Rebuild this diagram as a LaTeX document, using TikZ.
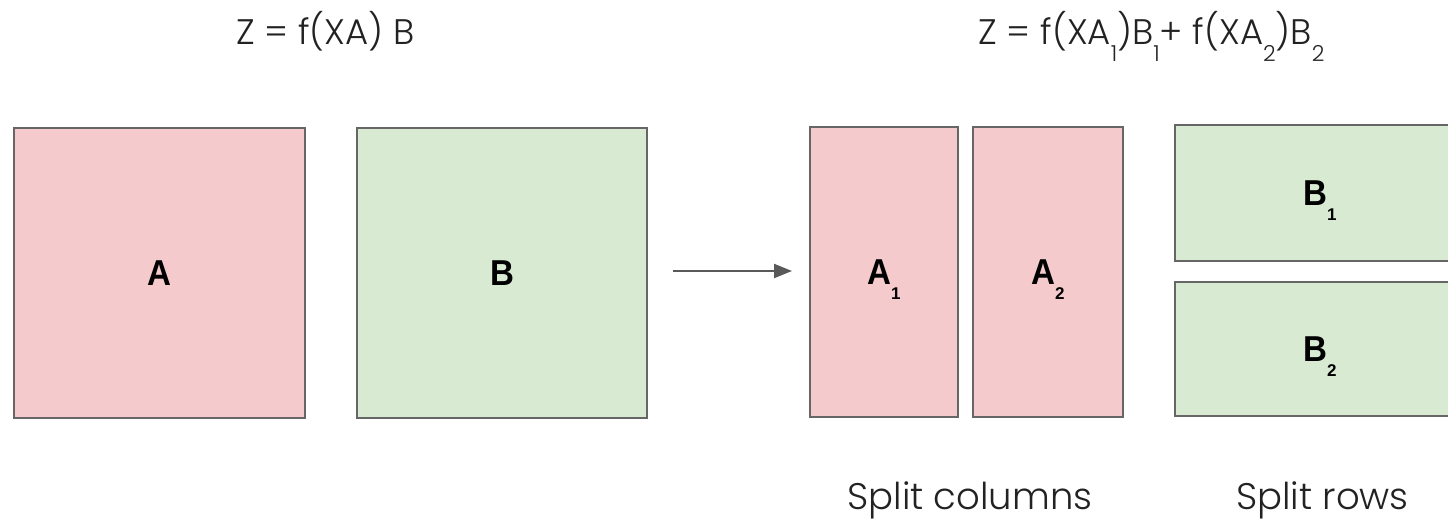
\documentclass[tikz,border=0pt]{standalone}
\usepackage{fontspec}
\setmainfont{Liberation Sans}
\newfontfamily\thinfont{Poppins Light}
\usetikzlibrary{arrows.meta}

\definecolor{pinkfill}{HTML}{F4CACC}
\definecolor{greenfill}{HTML}{D9EAD3}
\definecolor{edgegray}{HTML}{666666}
\definecolor{arrowgray}{HTML}{595959}
\definecolor{inkgray}{HTML}{222222}

% letter with a subscript hanging below its baseline
\newcommand{\blocklabel}[2]{\scalebox{0.92}[1]{#1}\smash{\raisebox{-15pt}{\fontsize{17}{17}\selectfont #2}}}
\newcommand{\lowsub}[1]{\smash{\raisebox{-17pt}{\fontsize{22}{22}\selectfont #1}}}

\begin{document}
\begin{tikzpicture}[x=1pt,y=-1pt,
  block/.style={draw=edgegray, line width=1.3pt, inner sep=0pt,
    font=\fontsize{36}{36}\selectfont\bfseries, text=black},
  pinkblock/.style={block, fill=pinkfill},
  greenblock/.style={block, fill=greenfill},
  heading/.style={font=\thinfont\fontsize{35.5}{35.5}\selectfont, text=inkgray, anchor=base, inner sep=0pt},
  caption/.style={font=\thinfont\fontsize{37}{37}\selectfont, text=inkgray, anchor=base, inner sep=0pt},
  flow/.style={draw=arrowgray, line width=2.2pt, -{Triangle[length=18pt,width=14pt]}}
]
\useasboundingbox (0,0) rectangle (1448,521);
\clip (0,0) rectangle (1448,521);

% formulas
\node[heading] (eqleft) at (325.5,45) {Z = f(XA) B};
\node[heading] (eqright) at (1151.5,45)
  {Z = f(XA\lowsub{1})B\lowsub{1}+ f(XA\lowsub{2})B\lowsub{2}};

% original matrices
\node[pinkblock, minimum width=291pt, minimum height=290pt] (A) at (159.5,273) {\scalebox{0.92}[1]{A}};
\node[greenblock, minimum width=290pt, minimum height=290pt] (B) at (502,273) {\scalebox{0.92}[1]{B}};

% transformation arrow
\coordinate (arrS) at (673,271);
\coordinate (arrE) at (792,271);
\draw[flow] (arrS) -- (arrE);

% A split into columns
\node[pinkblock, minimum width=148pt, minimum height=290pt] (A1) at (884,272) {\blocklabel{A}{1}};
\node[pinkblock, minimum width=150pt, minimum height=290pt] (A2) at (1048,272) {\blocklabel{A}{2}};

% B split into rows
\node[greenblock, minimum width=290pt, minimum height=136pt] (B1) at (1320,193) {\blocklabel{B}{1}};
\node[greenblock, minimum width=290pt, minimum height=134pt] (B2) at (1320,349) {\blocklabel{B}{2}};

% captions
\node[caption] (capcols) at (970,509) {Split columns};
\node[caption] (caprows) at (1322.5,509) {Split rows};
\end{tikzpicture}
\end{document}
